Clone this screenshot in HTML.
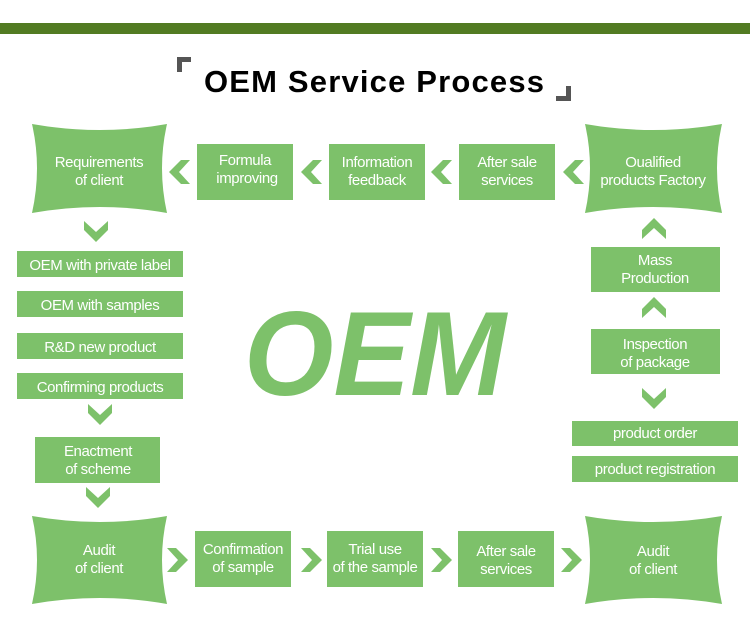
<!DOCTYPE html>
<html><head><meta charset="utf-8"><style>
html,body{margin:0;padding:0;background:#fff}
svg{display:block}
text{font-family:"Liberation Sans","DejaVu Sans",sans-serif}
.t{fill:#fff;font-size:15px;text-anchor:middle;letter-spacing:-0.4px}
</style></head><body>
<svg width="750" height="624" viewBox="0 0 750 624" xmlns="http://www.w3.org/2000/svg">
<defs>
<path id="dn" d="M-12 -10 L0 1 L12 -10 L12 -1 L0 11 L-12 -1 Z"/>
<path id="up" d="M-12 10 L0 -1 L12 10 L12 1 L0 -11 L-12 1 Z"/>
<path id="lf" d="M10 -12 L-1 0 L10 12 L1 12 L-11 0 L1 -12 Z"/>
<path id="rt" d="M-10 -12 L1 0 L-10 12 L-1 12 L11 0 L-1 -12 Z"/>
</defs>
<rect x="0" y="23" width="750" height="11" fill="#527b22"/>
<path d="M177 72 V57 H191 V62 H182 V72 Z" fill="#555"/>
<path d="M571 101 V86 H566 V96 H556 V101 Z" fill="#555"/>
<text x="374" y="92" font-size="31" font-weight="bold" text-anchor="middle" textLength="340" fill="#000">OEM Service Process</text>

<text x="375" y="395" font-size="120" font-weight="bold" font-style="italic" text-anchor="middle" textLength="262" lengthAdjust="spacingAndGlyphs" fill="#7dc16a">OEM</text>

<g fill="#7dc16a">
<path d="M32 124 Q100 136 167 124 Q157 168 167 213 Q100 201 32 213 Q42 168 32 124 Z"/>
<path d="M585 124 Q653 136 722 124 Q712 168 722 213 Q653 201 585 213 Q595 168 585 124 Z"/>
<path d="M32 516 Q100 528 167 516 Q157 560 167 604 Q100 592 32 604 Q42 560 32 516 Z"/>
<path d="M585 516 Q653 528 722 516 Q712 560 722 604 Q653 592 585 604 Q595 560 585 516 Z"/>
<rect x="197" y="144" width="96" height="56"/>
<rect x="329" y="144" width="96" height="56"/>
<rect x="459" y="144" width="96" height="56"/>
<rect x="195" y="531" width="96" height="56"/>
<rect x="327" y="531" width="96" height="56"/>
<rect x="458" y="531" width="96" height="56"/>
<rect x="17" y="251" width="166" height="26"/>
<rect x="17" y="291" width="166" height="26"/>
<rect x="17" y="333" width="166" height="26"/>
<rect x="17" y="373" width="166" height="26"/>
<rect x="35" y="437" width="125" height="46"/>
<rect x="591" y="247" width="129" height="45"/>
<rect x="591" y="329" width="129" height="45"/>
<rect x="572" y="421" width="166" height="25"/>
<rect x="572" y="456" width="166" height="26"/>

<use href="#lf" x="180" y="172"/>
<use href="#lf" x="312" y="172"/>
<use href="#lf" x="442" y="172"/>
<use href="#lf" x="574" y="172"/>
<use href="#rt" x="177" y="560"/>
<use href="#rt" x="311" y="560"/>
<use href="#rt" x="441" y="560"/>
<use href="#rt" x="571" y="560"/>
<use href="#dn" x="96" y="231"/>
<use href="#dn" x="100" y="414"/>
<use href="#dn" x="98" y="497"/>
<use href="#dn" x="654" y="398"/>
<use href="#up" x="654" y="229"/>
<use href="#up" x="654" y="308"/>
</g>

<g>
<text class="t" x="99" y="167">Requirements</text><text class="t" x="99" y="185">of client</text>
<text class="t" x="245" y="165">Formula</text><text class="t" x="247" y="183">improving</text>
<text class="t" x="377" y="167">Information</text><text class="t" x="377" y="185">feedback</text>
<text class="t" x="507" y="167">After sale</text><text class="t" x="507" y="185">services</text>
<text class="t" x="653" y="167">Oualified</text><text class="t" x="653" y="185">products Factory</text>
<text class="t" x="100" y="270">OEM with private label</text>
<text class="t" x="100" y="310">OEM with samples</text>
<text class="t" x="100" y="352">R&amp;D new product</text>
<text class="t" x="100" y="392">Confirming products</text>
<text class="t" x="98" y="456">Enactment</text><text class="t" x="98" y="474">of scheme</text>
<text class="t" x="99" y="555">Audit</text><text class="t" x="99" y="573">of client</text>
<text class="t" x="243" y="554">Confirmation</text><text class="t" x="243" y="572">of sample</text>
<text class="t" x="375" y="554">Trial use</text><text class="t" x="375" y="572">of the sample</text>
<text class="t" x="506" y="556">After sale</text><text class="t" x="506" y="574">services</text>
<text class="t" x="653" y="556">Audit</text><text class="t" x="653" y="574">of client</text>
<text class="t" x="655" y="265">Mass</text><text class="t" x="655" y="283">Production</text>
<text class="t" x="655" y="349">Inspection</text><text class="t" x="655" y="367">of package</text>
<text class="t" x="655" y="438">product order</text>
<text class="t" x="655" y="474">product registration</text>
</g>
</svg>
</body></html>
